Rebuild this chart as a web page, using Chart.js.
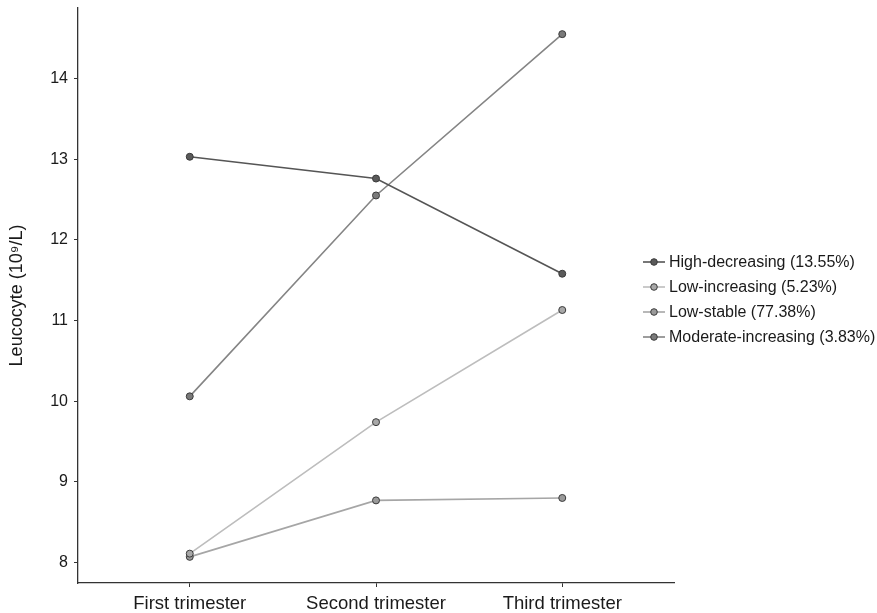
<!DOCTYPE html>
<html>
<head>
<meta charset="utf-8">
<script src="https://cdn.jsdelivr.net/npm/chart.js@4/dist/chart.umd.min.js"></script>
<style>
  html, body { margin: 0; padding: 0; background: #ffffff; }
  #wrap { width: 877px; height: 613px; }
</style>
</head>
<body>
<div id="wrap"><canvas id="c" width="877" height="613"></canvas></div>
<script>
const categories = ['First trimester', 'Second trimester', 'Third trimester'];
const seriesNames = ['High-decreasing (13.55%)', 'Low-increasing (5.23%)', 'Low-stable (77.38%)', 'Moderate-increasing (3.83%)'];
const highDecreasing = [13.03, 12.76, 11.58];
const lowIncreasing = [8.11, 9.74, 11.13];
const lowStable = [8.07, 8.77, 8.80];
const moderateIncreasing = [10.06, 12.55, 14.55];
const yTicks = [8, 9, 10, 11, 12, 13, 14];
const yTitle = 'Leucocyte (10\u2079/L)';

const seriesValues = [highDecreasing, lowIncreasing, lowStable, moderateIncreasing];
const lineColors = ['#555555', '#bdbdbd', '#a6a6a6', '#858585'];
const pointColors = ['#5a5a5a', '#a8a8a8', '#9a9a9a', '#7a7a7a'];

const datasets = seriesValues.map((vals, i) => ({
  label: seriesNames[i],
  data: vals.map((v, j) => ({ x: j, y: v })),
  borderColor: lineColors[i],
  backgroundColor: pointColors[i],
  borderWidth: 1.6,
  pointRadius: 3.5,
  pointBorderColor: '#3a3a3a',
  pointBorderWidth: 1,
  pointBackgroundColor: pointColors[i],
  tension: 0,
  fill: false
}));

const legendPlugin = {
  id: 'customLegend',
  afterDraw(chart) {
    const ctx = chart.ctx;
    ctx.save();
    chart.data.datasets.forEach((ds, i) => {
      const y = 262 + i * 25;
      ctx.strokeStyle = ds.borderColor;
      ctx.lineWidth = 1.6;
      ctx.beginPath();
      ctx.moveTo(643, y);
      ctx.lineTo(665, y);
      ctx.stroke();
      ctx.beginPath();
      ctx.arc(654, y, 3.3, 0, Math.PI * 2);
      ctx.fillStyle = ds.pointBackgroundColor;
      ctx.fill();
      ctx.strokeStyle = '#3a3a3a';
      ctx.lineWidth = 1;
      ctx.stroke();
      ctx.fillStyle = '#1a1a1a';
      ctx.font = '16px "Liberation Sans", Arial, sans-serif';
      ctx.textBaseline = 'middle';
      ctx.textAlign = 'left';
      ctx.fillText(ds.label, 669, y + 0.5);
    });
    ctx.restore();
  }
};

const axisColor = '#333333';

new Chart(document.getElementById('c'), {
  type: 'line',
  data: { datasets },
  options: {
    responsive: false,
    animation: false,
    layout: { padding: { left: 0, top: 8, right: 203, bottom: 0 } },
    plugins: { legend: { display: false }, tooltip: { enabled: false } },
    scales: {
      x: {
        type: 'linear',
        min: -0.6,
        max: 2.6,
        afterBuildTicks(scale) { scale.ticks = categories.map((c, i) => ({ value: i })); },
        afterFit(scale) { scale.height = 30; scale.paddingLeft = 0; scale.paddingRight = 0; },
        ticks: {
          callback: (v) => categories[v],
          color: '#1a1a1a',
          font: { family: '"Liberation Sans", Arial, sans-serif', size: 18.5 },
          padding: 6,
          maxRotation: 0,
          autoSkip: false
        },
        grid: { drawOnChartArea: false, tickLength: 4, color: axisColor, lineWidth: 1 },
        border: { display: true, color: axisColor, width: 1.3 }
      },
      y: {
        type: 'linear',
        min: 7.746,
        max: 14.874,
        afterBuildTicks(scale) { scale.ticks = yTicks.map(v => ({ value: v })); },
        afterFit(scale) { scale.width = 78; scale.paddingTop = 0; scale.paddingBottom = 0; },
        ticks: {
          color: '#1a1a1a',
          font: { family: '"Liberation Sans", Arial, sans-serif', size: 16 },
          padding: 6
        },
        grid: { drawOnChartArea: false, tickLength: 4, color: axisColor, lineWidth: 1 },
        border: { display: true, color: axisColor, width: 1.3 },
        title: {
          display: true,
          text: yTitle,
          color: '#1a1a1a',
          font: { family: '"Liberation Sans", Arial, sans-serif', size: 18 },
          padding: { top: 6, bottom: 0 }
        }
      }
    }
  },
  plugins: [legendPlugin]
});
</script>
</body>
</html>
